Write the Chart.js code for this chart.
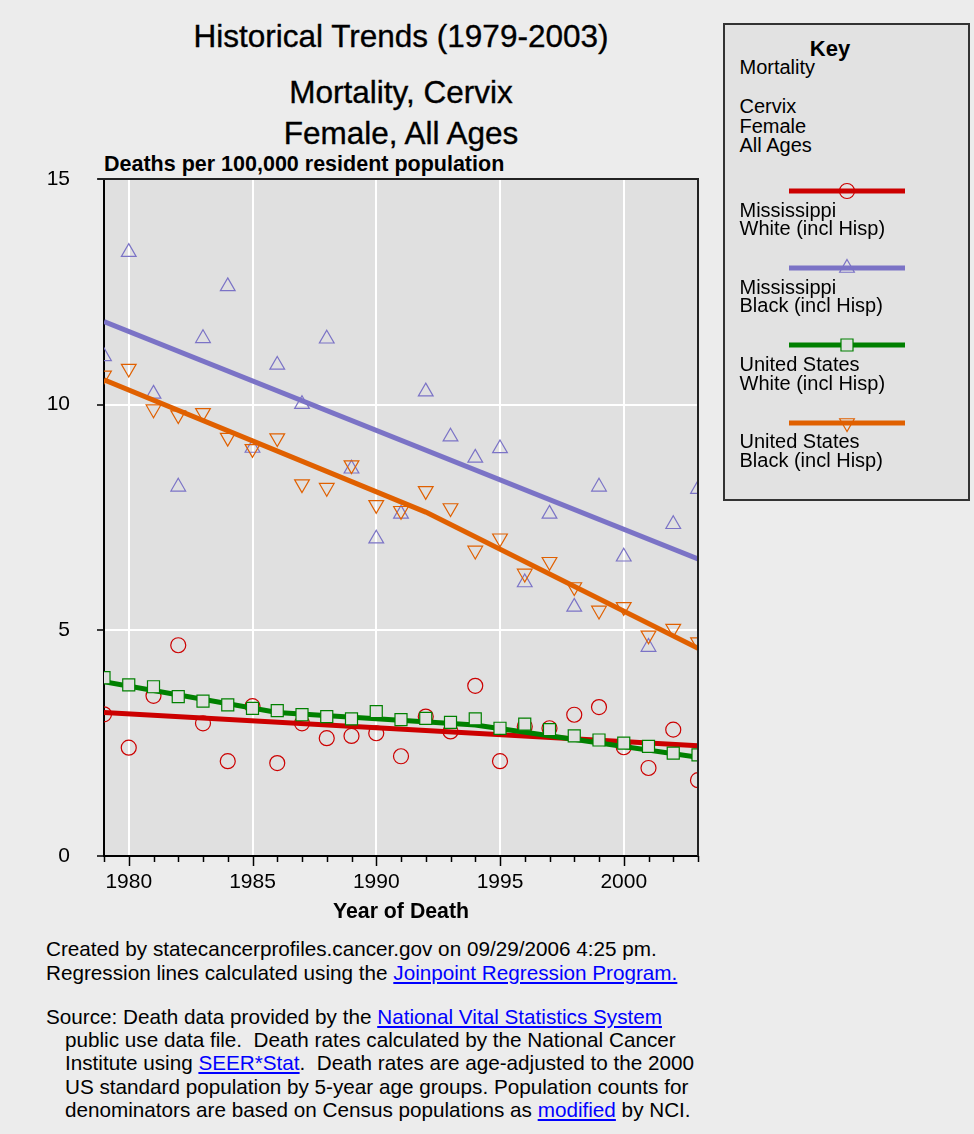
<!DOCTYPE html>
<html>
<head>
<meta charset="utf-8">
<title>Historical Trends (1979-2003) - Mortality, Cervix</title>
<script src="https://cdn.jsdelivr.net/npm/chart.js"></script>
<style>
  html, body { margin: 0; padding: 0; }
  body { width: 974px; height: 1134px; background: #ececec; position: relative; overflow: hidden;
         font-family: "Liberation Sans", Arial, sans-serif; color: #000; }
  .abs { position: absolute; white-space: nowrap; }
  #title { left: 104px; width: 594px; top: 18px; text-align: center; font-size: 31.5px; line-height: 36px; -webkit-text-stroke: 0.35px #000; }
  #subtitle { left: 104px; width: 594px; top: 72px; text-align: center; font-size: 31.5px; line-height: 40.5px; -webkit-text-stroke: 0.35px #000; }
  #yunit { left: 104px; top: 152px; font-size: 21.5px; font-weight: bold; line-height: 24px; }
  #xtitle { left: 104px; width: 594px; top: 899px; text-align: center; font-size: 21.3px; font-weight: bold; line-height: 24px; }
  #plot { position: absolute; left: 0; top: 139px; }
  #key { left: 723px; top: 23px; width: 243px; height: 474px; border: 2px solid #333; background: #e2e2e2; }
  #key .head { left: 55px; width: 100px; top: 13px; text-align: center; font-size: 22px; font-weight: bold; line-height: 22px; }
  #key .txt { left: 14.5px; font-size: 20px; line-height: 19.5px; }
  #key .name { left: 14.5px; font-size: 20px; line-height: 18.5px; }
  #key canvas { position: absolute; left: 64px; }
  .note { left: 46px; font-size: 20.7px; }
  .note a { color: #0000ff; text-decoration: underline; }
  #note1 { top: 937px; line-height: 24px; }
  #note2 { top: 1005px; line-height: 23.2px; padding-left: 19px; text-indent: -19px; }
</style>
</head>
<body>
<div id="title" class="abs">Historical Trends (1979-2003)</div>
<div id="subtitle" class="abs">Mortality, Cervix<br>Female, All Ages</div>
<div id="yunit" class="abs">Deaths per 100,000 resident population</div>
<canvas id="plot" width="720" height="791"></canvas>
<div id="xtitle" class="abs">Year of Death</div>

<div id="key" class="abs">
  <div class="abs head">Key</div>
  <div class="abs txt" style="top:33.3px">Mortality<br><br>Cervix<br>Female<br>All Ages</div>
</div>

<div id="note1" class="abs note">Created by statecancerprofiles.cancer.gov on 09/29/2006 4:25 pm.<br>Regression lines calculated using the <a href="#">Joinpoint Regression Program.</a></div>
<div id="note2" class="abs note">Source: Death data provided by the <a href="#">National Vital Statistics System</a><br>public use data file.&nbsp; Death rates calculated by the National Cancer<br>Institute using <a href="#">SEER*Stat</a>.&nbsp; Death rates are age-adjusted to the 2000<br>US standard population by 5-year age groups. Population counts for<br>denominators are based on Census populations as <a href="#">modified</a> by NCI.</div>

<script>
var years = [1979, 1980, 1981, 1982, 1983, 1984, 1985, 1986, 1987, 1988, 1989, 1990,
    1991, 1992, 1993, 1994, 1995, 1996, 1997, 1998, 1999, 2000, 2001, 2002, 2003];

// observed rates
var msWhite = [3.14, 2.40, 3.55, 4.67, 2.94, 2.10, 3.32, 2.06, 2.94, 2.61, 2.66, 2.72,
    2.21, 3.09, 2.76, 3.77, 2.10, 2.87, 2.83, 3.13, 3.30, 2.41, 1.95, 2.80, 1.68];
var msBlack = [11.07, 13.38, 10.24, 8.18, 11.47, 12.62, 9.04, 10.88, 10.01, 11.46, 8.58, 7.03,
    7.58, 10.29, 9.29, 8.82, 9.03, 6.06, 7.58, 5.52, 8.18, 6.63, 4.63, 7.35, 8.13];
var usWhite = [3.95, 3.79, 3.75, 3.53, 3.43, 3.35, 3.27, 3.22, 3.13, 3.09, 3.04, 3.20,
    3.02, 3.05, 2.96, 3.04, 2.83, 2.92, 2.80, 2.66, 2.57, 2.50, 2.43, 2.28, 2.24];
var usBlack = [10.65, 10.80, 9.90, 9.77, 9.82, 9.27, 9.02, 9.26, 8.24, 8.16, 8.66, 7.78,
    7.65, 8.09, 7.71, 6.77, 7.04, 6.26, 6.52, 5.96, 5.44, 5.52, 4.89, 5.04, 4.74];

// joinpoint regression lines (segment ends)
var msWhiteFitYears = [1979, 2003];
var msWhiteFit = [3.18, 2.44];
var msBlackFitYears = [1979, 2003];
var msBlackFit = [11.84, 6.58];
var usWhiteFitYears = [1979, 1986, 1994, 2003];
var usWhiteFit = [3.86, 3.18, 2.90, 2.19];
var usBlackFitYears = [1979, 1992, 2003];
var usBlackFit = [10.55, 7.62, 4.60];

var xTickLabels = [1980, 1985, 1990, 1995, 2000];
var yTickLabels = [0, 5, 10, 15];

var seriesNames = [
    ['Mississippi', 'White (incl Hisp)'],
    ['Mississippi', 'Black (incl Hisp)'],
    ['United States', 'White (incl Hisp)'],
    ['United States', 'Black (incl Hisp)']
];
var seriesColors = ['#cc0000', '#7b73c6', '#008000', '#e06000'];
var plotBg = '#e0e0e0';
var markers = [
    { pointStyle: 'circle', radius: 7.5, rotation: 0, fill: 'rgba(0,0,0,0)' },
    { pointStyle: 'triangle', radius: 8.5, rotation: 0, fill: 'rgba(0,0,0,0)' },
    { pointStyle: 'rect', radius: 8.5, rotation: 0, fill: plotBg },
    { pointStyle: 'triangle', radius: 8.5, rotation: 180, fill: 'rgba(0,0,0,0)' }
];

function pairs(xs, ys) {
    return xs.map(function (x, i) { return { x: x, y: ys[i] }; });
}

var observed = [msWhite, msBlack, usWhite, usBlack];
var fits = [[msWhiteFitYears, msWhiteFit], [msBlackFitYears, msBlackFit],
    [usWhiteFitYears, usWhiteFit], [usBlackFitYears, usBlackFit]];
// bottom -> top drawing order
var pointOrder = [8, 6, 3, 2];
var lineOrder = [7, 5, 4, 1];

var datasets = [];
seriesNames.forEach(function (name, i) {
    datasets.push({
        label: name.join(' ') + ' rate',
        data: pairs(years, observed[i]),
        showLine: false,
        pointStyle: markers[i].pointStyle,
        pointRadius: markers[i].radius,
        pointRotation: markers[i].rotation,
        pointBorderWidth: 1.2,
        borderColor: seriesColors[i],
        backgroundColor: markers[i].fill,
        order: pointOrder[i]
    });
    datasets.push({
        label: name.join(' ') + ' trend',
        data: pairs(fits[i][0], fits[i][1]),
        showLine: true,
        borderColor: seriesColors[i],
        borderWidth: 5,
        pointRadius: 0,
        tension: 0,
        order: lineOrder[i]
    });
});

var plotFrame = {
    id: 'plotFrame',
    beforeDraw: function (chart) {
        var a = chart.chartArea, ctx = chart.ctx;
        ctx.save();
        ctx.fillStyle = plotBg;
        ctx.fillRect(a.left, a.top, a.right - a.left, a.bottom - a.top);
        ctx.restore();
    },
    afterDraw: function (chart) {
        var a = chart.chartArea, ctx = chart.ctx, xs = chart.scales.x;
        ctx.save();
        ctx.strokeStyle = '#222';
        ctx.lineWidth = 2;
        ctx.beginPath();
        ctx.moveTo(a.left - 6, a.top);
        ctx.lineTo(a.right, a.top);
        ctx.lineTo(a.right, a.bottom);
        ctx.stroke();
        // year ticks: long on labelled years, short otherwise
        ctx.strokeStyle = '#000';
        ctx.lineWidth = 1.5;
        years.forEach(function (yr) {
            var px = Math.round(xs.getPixelForValue(yr)) + 0.5;
            var len = xTickLabels.indexOf(yr) >= 0 ? 10 : 6;
            ctx.beginPath();
            ctx.moveTo(px, a.bottom);
            ctx.lineTo(px, a.bottom + len);
            ctx.stroke();
        });
        ctx.restore();
    }
};

Chart.defaults.font.family = '"Liberation Sans", Arial, sans-serif';
Chart.defaults.color = '#000';

var chart = new Chart(document.getElementById('plot'), {
    type: 'scatter',
    data: { datasets: datasets },
    options: {
        responsive: false,
        animation: false,
        devicePixelRatio: 1,
        layout: { padding: { top: 40, left: 0, right: 22, bottom: 0 } },
        plugins: { legend: { display: false }, tooltip: { enabled: false } },
        scales: {
            x: {
                type: 'linear',
                min: 1979,
                max: 2003,
                afterFit: function (s) { s.height = 74; },
                afterBuildTicks: function (s) {
                    s.ticks = years.map(function (v) { return { value: v }; });
                },
                ticks: {
                    autoSkip: false,
                    maxRotation: 0,
                    padding: 4,
                    font: { size: 21 },
                    callback: function (v) { return xTickLabels.indexOf(v) >= 0 ? String(v) : ''; }
                },
                grid: {
                    lineWidth: 2,
                    tickLength: 10,
                    tickColor: 'rgba(0,0,0,0)',
                    color: function (c) {
                        return c.tick && xTickLabels.indexOf(c.tick.value) >= 0 ? '#ffffff' : 'rgba(0,0,0,0)';
                    }
                },
                border: { display: true, color: '#000', width: 2 }
            },
            y: {
                type: 'linear',
                min: 0,
                max: 15,
                afterFit: function (s) { s.width = 104; },
                afterBuildTicks: function (s) {
                    s.ticks = yTickLabels.map(function (v) { return { value: v }; });
                },
                ticks: { padding: 27, font: { size: 21 } },
                grid: {
                    lineWidth: 2,
                    tickLength: 7,
                    tickColor: '#000',
                    tickWidth: 1.5,
                    color: function (c) {
                        var v = c.tick ? c.tick.value : 0;
                        return v > 0 && v < 15 ? '#ffffff' : 'rgba(0,0,0,0)';
                    }
                },
                border: { display: true, color: '#000', width: 2 }
            }
        }
    },
    plugins: [plotFrame]
});

// key entries
var key = document.getElementById('key');
var keyFirstLine = 165.7;   // line centre, relative to key box
var keyStep = 77.3;
seriesNames.forEach(function (name, i) {
    var lineY = keyFirstLine + i * keyStep;
    var c = document.createElement('canvas');
    c.width = 116;
    c.height = 22;
    c.style.top = (lineY - 11) + 'px';
    key.appendChild(c);
    var ctx = c.getContext('2d');
    ctx.strokeStyle = seriesColors[i];
    ctx.lineWidth = 5;
    ctx.beginPath();
    ctx.moveTo(0, 11);
    ctx.lineTo(116, 11);
    ctx.stroke();
    ctx.lineWidth = 1.2;
    ctx.fillStyle = markers[i].fill;
    if (Chart.helpers && Chart.helpers.drawPoint) {
        Chart.helpers.drawPoint(ctx, {
            pointStyle: markers[i].pointStyle,
            radius: markers[i].radius,
            rotation: markers[i].rotation,
            borderWidth: 1.2
        }, 58, 11);
    }
    var t = document.createElement('div');
    t.className = 'abs name';
    t.style.top = (lineY + 9.8) + 'px';
    t.innerHTML = name[0] + '<br>' + name[1];
    key.appendChild(t);
});
</script>
</body>
</html>
